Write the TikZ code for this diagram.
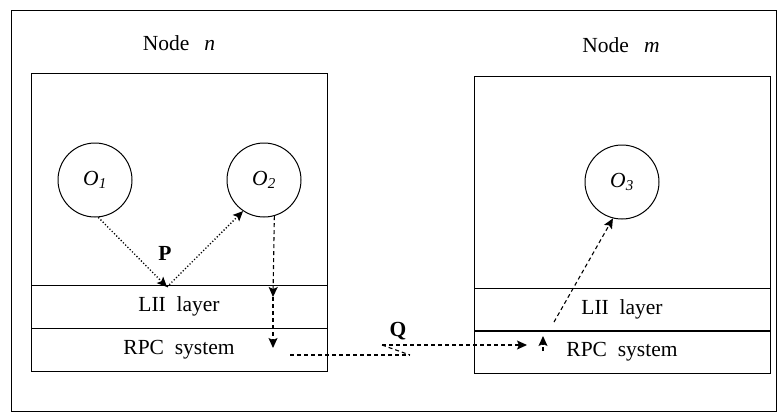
\documentclass[tikz,border=0pt]{standalone}
\usepackage{fontspec}
\setmainfont{Liberation Serif}
\usetikzlibrary{arrows.meta}
\tikzset{
  txt/.style={font=\fontsize{21.5}{24}\selectfont},
  obj/.style={draw, circle, minimum size=74pt, inner sep=0pt, line width=1pt,
    font=\fontsize{21.5}{24}\selectfont\itshape},
  area/.style={draw, minimum width=296pt, minimum height=212pt, inner sep=0pt},
  layer/.style={draw, minimum width=296pt, minimum height=43pt, inner sep=0pt, txt},
  headarr/.style={-{Stealth[length=10pt,width=9pt,inset=2pt]}},
  dashln/.style={dash pattern=on 4pt off 3pt, line width=1.1pt},
  dotln/.style={dash pattern=on 1.2pt off 2pt, line width=1.3pt},
}

\begin{document}
\begin{tikzpicture}[x=1pt, y=-1pt, line width=1pt]
  \useasboundingbox (0,0) rectangle (778,413);
  \draw[line width=0.8pt] (11,10) rectangle (776,411);

  % Nodo n
  \node[txt] (lbln) at (179,43) {Node\hspace{0.7em}\textit{n}};
  \node[area]  (hostn) at (179,179) {};
  \node[layer] (liin)  at (179,306.5) {LII\hspace{0.5em}layer};
  \node[layer] (rpcn)  at (179,349.5) {RPC\hspace{0.5em}system};
  \node[obj] (o1) at (95,180)  {O\textsubscript{1}};
  \node[obj] (o2) at (264,180) {O\textsubscript{2}};

  % Nodo m
  \node[txt] (lblm) at (621,45) {Node\hspace{0.7em}\textit{m}};
  \node[area]  (hostm) at (622,182) {};
  \node[layer] (liim)  at (622,309.5) {LII\hspace{0.5em}layer};
  \node[layer] (rpcm)  at (622,352) {RPC\hspace{0.5em}system};
  \node[obj] (o3) at (622,182) {O\textsubscript{3}};

  % Chiamata locale P
  \coordinate (jn) at (167,287);
  \draw[dotln, headarr] (o1.-85) -- (jn);
  \draw[dotln, headarr] (jn) -- (o2.236);
  \node[txt, font=\fontsize{21.5}{24}\selectfont\bfseries] (p) at (165,253) {P};

  % Chiamata remota Q
  \coordinate (d1) at (273,297);
  \coordinate (d2) at (273,348);
  \draw[dashln, headarr] (o2.-74) -- (d1);
  \draw[dashln, headarr] (d1) -- (d2);

  \coordinate (q1) at (290,355);
  \coordinate (q2) at (410,355);
  \coordinate (q3) at (382,345);
  \coordinate (q4) at (527,345);
  \draw[dashln] (q1) -- (q2);
  \draw[dashln] (q3) -- (q2);
  \draw[dashln, headarr] (q3) -- (q4);
  \node[txt, font=\fontsize{21.5}{24}\selectfont\bfseries] (q) at (398,331) {Q};

  \coordinate (u1) at (543,351);
  \coordinate (u2) at (543,336);
  \coordinate (u3) at (554,322);
  \draw[dashln, headarr] (u1) -- (u2);
  \draw[dashln, headarr] (u3) -- (o3.256);
\end{tikzpicture}
\end{document}
